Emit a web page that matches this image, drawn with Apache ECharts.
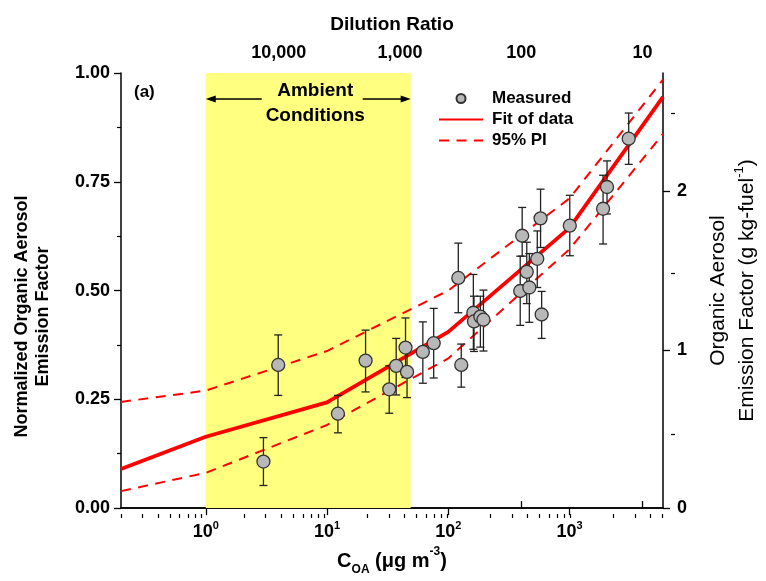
<!DOCTYPE html>
<html><head><meta charset="utf-8">
<script src="https://cdn.jsdelivr.net/npm/echarts@6/dist/echarts.min.js"></script>
<style>html,body{margin:0;padding:0;background:#fff}#c{width:766px;height:581px}</style>
</head><body><div id="c"></div>
<script>
// ---- data ----
const coa     = [2.99, 3.96, 12.3, 20.8, 32.6, 37.2, 44.4, 45.7, 61.7, 75.8, 121, 128, 161, 163, 184, 195, 392, 407, 444, 466, 542, 577, 589, 1005, 1891, 2038, 3076];
const efNorm  = [0.107, 0.329, 0.217, 0.339, 0.273, 0.327, 0.369, 0.313, 0.359, 0.379, 0.529, 0.329, 0.449, 0.429, 0.440, 0.433, 0.499, 0.626, 0.543, 0.507, 0.573, 0.666, 0.445, 0.649, 0.688, 0.738, 0.849];
const efLow   = [0.052, 0.259, 0.173, 0.267, 0.218, 0.260, 0.300, 0.254, 0.287, 0.299, 0.449, 0.278, 0.365, 0.360, 0.370, 0.361, 0.420, 0.579, 0.470, 0.427, 0.507, 0.599, 0.390, 0.580, 0.607, 0.676, 0.790];
const efHigh  = [0.162, 0.398, 0.259, 0.409, 0.327, 0.390, 0.437, 0.371, 0.428, 0.459, 0.609, 0.377, 0.537, 0.487, 0.487, 0.501, 0.579, 0.691, 0.611, 0.585, 0.637, 0.733, 0.498, 0.719, 0.765, 0.798, 0.908];
const curveC  = [0.2, 1, 10, 100, 1000, 5900];
const fitY    = [0.090, 0.164, 0.243, 0.405, 0.644, 0.945];
const piUpper = [0.244, 0.270, 0.361, 0.500, 0.712, 0.985];
const piLower = [0.039, 0.081, 0.191, 0.344, 0.595, 0.860];
const ambientRange = [1, 49];
const coaRange = [0.2, 5900];
const dilutionConst = 40000;          // dilution ratio = const / C_OA
const bottomTicks = [1, 10, 100, 1000];
const dilutionTicks = [10, 100, 1000, 10000];
const rightMax = 2.748;               // right axis value at normalized 1.00
const rightTicks = [0, 1, 2];
const rightMinor = [0.5, 1.5, 2.5];
const bottomMinor = [];
[0.1, 1, 10, 100, 1000].forEach(d => { for (let k = 2; k <= 9; k++) { const v = +(d * k).toPrecision(3); if (v >= coaRange[0] && v <= coaRange[1]) bottomMinor.push(v); } });

const FONT = '"Liberation Sans", Arial, sans-serif';
const AX = { color: '#000', width: 1.5 };
const chart = echarts.init(document.getElementById('c'), null, { renderer: 'canvas' });

const gridBox = { left: 121, right: 95, top: 73, bottom: 67 };
const option = {
  animation: false,
  backgroundColor: '#fff',
  textStyle: { fontFamily: FONT },
  grid: [Object.assign({}, gridBox), Object.assign({}, gridBox)],
  legend: {
    orient: 'vertical', left: 433, top: 85, itemWidth: 44, itemHeight: 9, itemGap: 4,
    data: [
      { name: 'Measured' },
      { name: 'Fit of data', itemStyle: { opacity: 0 } },
      { name: '95% PI', itemStyle: { opacity: 0 } }
    ],
    textStyle: { fontFamily: FONT, fontWeight: 'bold', fontSize: 17, color: '#000', padding: [0, 0, 0, 4] }
  },
  xAxis: [
    {
      gridIndex: 0, type: 'log', position: 'bottom', min: coaRange[0], max: coaRange[1],
      axisLine: { lineStyle: AX },
      axisTick: { customValues: bottomTicks, length: 7, lineStyle: { color: '#000', width: 1.3 } },
      axisLabel: {
        customValues: bottomTicks, margin: 12,
        formatter: v => '{b|10}{s|' + Math.round(Math.log10(v)) + '}',
        rich: {
          b: { fontFamily: FONT, fontWeight: 'bold', fontSize: 18, color: '#000', lineHeight: 24 },
          s: { fontFamily: FONT, fontWeight: 'bold', fontSize: 11, color: '#000', lineHeight: 13, verticalAlign: 'top' }
        }
      },
      splitLine: { show: false },
      name: '{c|C}{sub|OA}{c| (μg m}{sup|-3}{c|)}', nameLocation: 'middle', nameGap: 35,
      nameTextStyle: {
        rich: {
          c: { fontFamily: FONT, fontWeight: 'bold', fontSize: 20, color: '#000', lineHeight: 30 },
          sub: { fontFamily: FONT, fontWeight: 'bold', fontSize: 12, color: '#000', lineHeight: 15, verticalAlign: 'bottom' },
          sup: { fontFamily: FONT, fontWeight: 'bold', fontSize: 12, color: '#000', lineHeight: 15, verticalAlign: 'top' }
        }
      }
    },
    {
      gridIndex: 0, type: 'log', position: 'top', inverse: true,
      min: dilutionConst / coaRange[1], max: dilutionConst / coaRange[0],
      axisLine: { lineStyle: AX },
      axisTick: { customValues: dilutionTicks, length: 7, lineStyle: { color: '#000', width: 1.3 } },
      axisLabel: {
        customValues: dilutionTicks, margin: 11,
        formatter: v => Math.round(v).toLocaleString('en-US'),
        fontFamily: FONT, fontWeight: 'bold', fontSize: 18, color: '#000'
      },
      splitLine: { show: false },
      name: 'Dilution Ratio', nameLocation: 'middle', nameGap: 39,
      nameTextStyle: { fontFamily: FONT, fontWeight: 'bold', fontSize: 19, color: '#000' }
    },
    {
      gridIndex: 1, type: 'log', position: 'bottom', min: coaRange[0], max: coaRange[1],
      axisLine: { show: false },
      axisTick: { customValues: bottomMinor, length: 4, lineStyle: { color: '#000', width: 1.2 } },
      axisLabel: { show: false }, splitLine: { show: false }
    }
  ],
  yAxis: [
    {
      gridIndex: 0, type: 'value', position: 'left', min: 0, max: 1, interval: 0.25,
      axisLine: { show: true, lineStyle: AX },
      axisTick: { show: true, length: 7, lineStyle: { color: '#000', width: 1.3 } },
      minorTick: { show: true, splitNumber: 2, length: 4, lineStyle: { color: '#000', width: 1.2 } },
      axisLabel: { formatter: v => v.toFixed(2), margin: 11, fontFamily: FONT, fontWeight: 'bold', fontSize: 18, color: '#000' },
      splitLine: { show: false },
      name: 'Normalized Organic Aerosol\nEmission Factor', nameLocation: 'middle', nameGap: 67, nameRotate: 90,
      nameTextStyle: { fontFamily: FONT, fontWeight: 'bold', fontSize: 18, color: '#000', lineHeight: 21.5, padding: [0, 52, 0, 0] }
    },
    {
      gridIndex: 0, type: 'value', position: 'right', min: 0, max: rightMax,
      axisLine: { show: true, lineStyle: AX },
      axisTick: { show: true, customValues: rightTicks, length: 7, lineStyle: { color: '#000', width: 1.3 } },
      axisLabel: { customValues: rightTicks, margin: 14, fontFamily: FONT, fontWeight: 'bold', fontSize: 18, color: '#000' },
      splitLine: { show: false },
      name: '{r|Organic Aerosol}\n{r|Emission Factor (g kg-fuel}{rs|-1}{r|)}', nameLocation: 'middle', nameGap: 41, nameRotate: 90,
      nameTextStyle: {
        rich: {
          r: { fontFamily: FONT, fontSize: 21, color: '#000', lineHeight: 29 },
          rs: { fontFamily: FONT, fontSize: 13, color: '#000', lineHeight: 16, verticalAlign: 'top' }
        }
      }
    },
    {
      gridIndex: 1, type: 'value', position: 'right', min: 0, max: rightMax,
      axisLine: { show: false },
      axisTick: { show: true, customValues: rightMinor, length: 4, lineStyle: { color: '#000', width: 1.2 } },
      axisLabel: { show: false }, splitLine: { show: false }
    }
  ],
  series: [
    {
      name: 'ambient', type: 'line', xAxisIndex: 0, yAxisIndex: 0, data: [], z: 0, silent: true,
      markArea: { silent: true, itemStyle: { color: '#ffff80' }, data: [[{ xAxis: ambientRange[0] }, { xAxis: ambientRange[1] }]] }
    },
    {
      name: '95% PI', type: 'line', xAxisIndex: 0, yAxisIndex: 0, symbol: 'none', z: 2,
      lineStyle: { color: '#ff0000', width: 2, type: [10, 7.5] }, itemStyle: { color: '#ff0000' },
      data: curveC.map((c, i) => [c, piUpper[i]])
    },
    {
      name: '95% PI', type: 'line', xAxisIndex: 0, yAxisIndex: 0, symbol: 'none', z: 2,
      lineStyle: { color: '#ff0000', width: 2, type: [10, 7.5] }, itemStyle: { color: '#ff0000' },
      data: curveC.map((c, i) => [c, piLower[i]])
    },
    {
      name: 'Fit of data', type: 'line', xAxisIndex: 0, yAxisIndex: 0, symbol: 'none', z: 3,
      lineStyle: { color: '#ff0000', width: 3.8 }, itemStyle: { color: '#ff0000' },
      data: curveC.map((c, i) => [c, fitY[i]])
    },
    {
      name: 'errorbars', type: 'custom', xAxisIndex: 0, yAxisIndex: 0, z: 4,
      data: coa.map((c, i) => [c, efLow[i], efHigh[i]]),
      encode: { x: 0, y: [1, 2] },
      renderItem: (params, api) => {
        const x = api.value(0);
        const p1 = api.coord([x, api.value(2)]);
        const p2 = api.coord([x, api.value(1)]);
        const w = 4;
        const style = { stroke: '#222', lineWidth: 1.3, fill: null };
        return {
          type: 'group', children: [
            { type: 'line', shape: { x1: p1[0], y1: p1[1], x2: p2[0], y2: p2[1] }, style },
            { type: 'line', shape: { x1: p1[0] - w, y1: p1[1], x2: p1[0] + w, y2: p1[1] }, style },
            { type: 'line', shape: { x1: p2[0] - w, y1: p2[1], x2: p2[0] + w, y2: p2[1] }, style }
          ]
        };
      }
    },
    {
      name: 'Measured', type: 'scatter', xAxisIndex: 0, yAxisIndex: 0, z: 5,
      symbol: 'circle', symbolSize: 13,
      itemStyle: { color: '#b8b8b8', borderColor: '#333', borderWidth: 1.3, opacity: 1 },
      data: coa.map((c, i) => [c, efNorm[i]])
    }
  ]
};
chart.setOption(option);

// annotations: "(a)" and the Ambient Conditions arrows (ends at the band edges)
const xL = chart.convertToPixel({ xAxisIndex: 0 }, ambientRange[0]);
const xR = chart.convertToPixel({ xAxisIndex: 0 }, ambientRange[1]);
const ay = 99;
const arrowStyle = { stroke: '#000', lineWidth: 1.4 };
chart.setOption({
  graphic: [
    { type: 'text', left: 134, top: 84, style: { text: '(a)', font: 'bold 17px ' + FONT, fill: '#000' }, z: 10 },
    { type: 'text', x: (xL + xR) / 2 + 7, y: 91, style: { text: 'Ambient', font: 'bold 19px ' + FONT, fill: '#000', align: 'center', verticalAlign: 'middle' }, z: 10 },
    { type: 'text', x: (xL + xR) / 2 + 7, y: 116, style: { text: 'Conditions', font: 'bold 19px ' + FONT, fill: '#000', align: 'center', verticalAlign: 'middle' }, z: 10 },
    { type: 'line', shape: { x1: xL + 8, y1: ay, x2: xL + 56, y2: ay }, style: arrowStyle, z: 10 },
    { type: 'polygon', shape: { points: [[xL, ay], [xL + 10, ay - 3.5], [xL + 10, ay + 3.5]] }, style: { fill: '#000' }, z: 10 },
    { type: 'line', shape: { x1: xR - 48, y1: ay, x2: xR - 8, y2: ay }, style: arrowStyle, z: 10 },
    { type: 'polygon', shape: { points: [[xR, ay], [xR - 10, ay - 3.5], [xR - 10, ay + 3.5]] }, style: { fill: '#000' }, z: 10 }
  ]
});
</script>
</body></html>
